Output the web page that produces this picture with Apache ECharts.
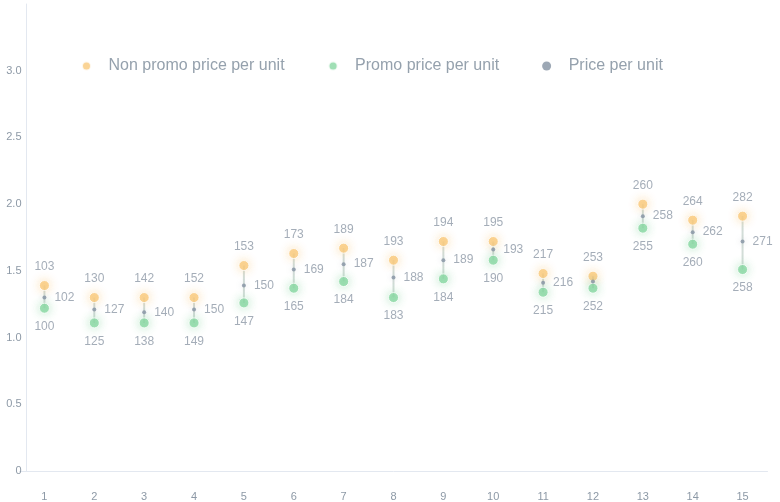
<!DOCTYPE html>
<html>
<head>
<meta charset="utf-8">
<style>
  html, body { margin: 0; padding: 0; background: #fff; }
  #chart { width: 780px; height: 502px; }
</style>
<script src="https://cdn.jsdelivr.net/npm/echarts@6/dist/echarts.min.js"></script>
</head>
<body>
<div id="chart"></div>
<script>
// values
var categories = ['1', '2', '3', '4', '5', '6', '7', '8', '9', '10', '11', '12', '13', '14', '15'];
var nonPromo = [1.39, 1.30, 1.30, 1.30, 1.54, 1.63, 1.67, 1.58, 1.72, 1.72, 1.48, 1.46, 2.00, 1.88, 1.91];
var promo = [1.22, 1.11, 1.11, 1.11, 1.26, 1.37, 1.42, 1.30, 1.44, 1.58, 1.34, 1.37, 1.82, 1.70, 1.51];
var pricePerUnit = [1.30, 1.21, 1.19, 1.21, 1.39, 1.51, 1.55, 1.45, 1.58, 1.66, 1.41, 1.42, 1.91, 1.79, 1.72];
var nonPromoLabels = [103, 130, 142, 152, 153, 173, 189, 193, 194, 195, 217, 253, 260, 264, 282];
var promoLabels = [100, 125, 138, 149, 147, 165, 184, 183, 184, 190, 215, 252, 255, 260, 258];
var priceLabels = [102, 127, 140, 150, 150, 169, 187, 188, 189, 193, 216, null, 258, 262, 271];
var yTicks = [0, 0.5, 1.0, 1.5, 2.0, 2.5, 3.0];

var textColor = '#8d99a6';
var font = 'Liberation Sans, Arial, sans-serif';

var rangeData = categories.map(function (c, i) {
  return [i, nonPromo[i], promo[i]];
});

function labelFrom(arr) {
  return function (p) {
    var v = arr[p.dataIndex];
    return v == null ? '' : String(v);
  };
}

var chart = echarts.init(document.getElementById('chart'));
var option = {
  animation: false,
  legend: {
    top: 53,
    left: 76,
    itemWidth: 34,
    itemHeight: 9,
    itemGap: 43,
    icon: 'circle',
    textStyle: { color: '#95a1ad', fontSize: 16, fontFamily: font },
    data: ['Non promo price per unit', 'Promo price per unit', 'Price per unit']
  },
  grid: { left: 19.5, right: 12.5, top: 4, bottom: 31 },
  xAxis: {
    type: 'category',
    data: categories,
    offset: 6,
    axisLine: { lineStyle: { color: '#e3e8f0' } },
    axisTick: { show: false },
    axisLabel: { color: textColor, fontSize: 11, fontFamily: font, margin: 14 },
    splitLine: { show: false }
  },
  yAxis: {
    type: 'value',
    min: 0,
    max: 3.5,
    interval: 0.5,
    offset: -7,
    axisLine: { show: true, lineStyle: { color: '#e3e8f0' } },
    axisTick: { show: false },
    splitLine: { show: false },
    axisLabel: {
      color: textColor, fontSize: 11, fontFamily: font, margin: 5,
      formatter: function (v) {
        return yTicks.indexOf(v) < 0 ? '' : (v === 0 ? '0' : v.toFixed(1));
      }
    }
  },
  series: [
    {
      type: 'custom',
      name: 'range',
      z: 1,
      silent: true,
      renderItem: function (params, api) {
        var top = api.coord([api.value(0), api.value(1)]);
        var bottom = api.coord([api.value(0), api.value(2)]);
        return {
          type: 'line',
          shape: { x1: top[0], y1: top[1], x2: bottom[0], y2: bottom[1] },
          style: { stroke: '#d3ddd8', lineWidth: 2 }
        };
      },
      data: rangeData
    },
    {
      type: 'scatter',
      name: 'Non promo price per unit',
      z: 3,
      symbolSize: 10,
      itemStyle: {
        color: '#f9c97c',
        borderColor: '#fff',
        borderWidth: 1,
        shadowBlur: 10,
        shadowColor: 'rgba(249,190,100,0.55)'
      },
      label: {
        show: true, position: 'top', distance: 7,
        color: textColor, fontSize: 12, fontFamily: font,
        formatter: labelFrom(nonPromoLabels)
      },
      data: nonPromo
    },
    {
      type: 'scatter',
      name: 'Promo price per unit',
      z: 3,
      symbolSize: 10,
      itemStyle: {
        color: '#88d7a2',
        borderColor: '#fff',
        borderWidth: 1,
        shadowBlur: 10,
        shadowColor: 'rgba(110,205,140,0.55)'
      },
      label: {
        show: true, position: 'bottom', distance: 7,
        color: textColor, fontSize: 12, fontFamily: font,
        formatter: labelFrom(promoLabels)
      },
      data: promo
    },
    {
      type: 'scatter',
      name: 'Price per unit',
      z: 4,
      symbolSize: 4,
      itemStyle: {
        color: '#8592a2',
        shadowBlur: 6,
        shadowColor: 'rgba(120,135,150,0.4)'
      },
      label: {
        show: true, position: 'right', distance: 8,
        color: textColor, fontSize: 12, fontFamily: font,
        formatter: labelFrom(priceLabels)
      },
      data: pricePerUnit
    }
  ]
};
chart.setOption(option);
</script>
</body>
</html>
